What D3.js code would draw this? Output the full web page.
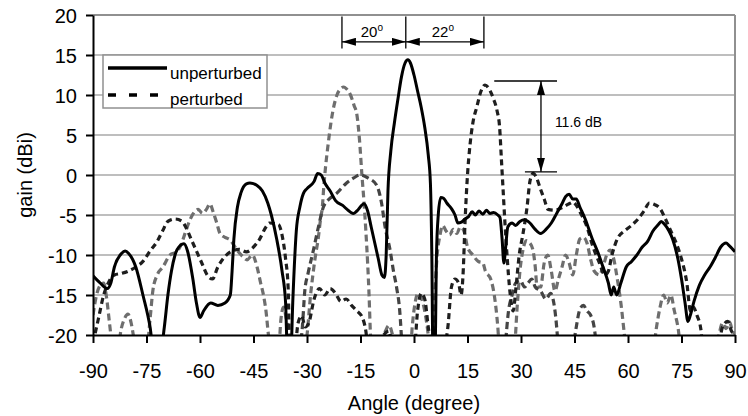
<!DOCTYPE html>
<html>
<head>
<meta charset="utf-8">
<script src="https://cdn.jsdelivr.net/npm/d3@7"></script>
<style>
  body { margin: 0; background: #fff; }
  svg text { font-family: "Liberation Sans", Arial, sans-serif; fill: #000; }
  .grid { stroke: #a8a8a8; stroke-width: 1.5; }
  .axis path, .axis line { stroke: #000; stroke-width: 2; }
  .axis text { font-size: 20px; }
</style>
</head>
<body>
<svg id="chart"></svg>
<script>
// tick values
const xTicks = [-90, -75, -60, -45, -30, -15, 0, 15, 30, 45, 60, 75, 90];
const yTicks = [-20, -15, -10, -5, 0, 5, 10, 15, 20];

// unperturbed pattern [angle, gain]
const unperturbed = [
  [-90,-12.6],[-88,-13.5],[-86,-14.2],[-85,-13.5],[-84,-11.5],[-82,-9.8],[-81,-9.5],[-80,-9.8],
  [-78,-11.5],[-76,-15],[-74,-19],[-73,-22],[-71,-22],[-70,-19],[-69,-15],[-68,-12],[-67,-10],
  [-65.5,-8.8],[-64.5,-8.6],[-63.5,-9.5],[-62,-13],[-61,-16],[-60,-17.8],[-59,-17],[-57,-16],
  [-55,-16.3],[-53,-16],[-51.5,-15],[-51,-12],[-50.5,-8],[-49.5,-4],[-48.5,-2.2],[-47,-1.1],
  [-46,-1],[-44,-1.3],[-42.5,-2],[-41,-3.5],[-40,-5],[-38.5,-8],[-37,-12],[-36,-16],[-35.5,-22],
  [-34.5,-22],[-34,-16],[-33,-7],[-32,-4],[-31,-2.3],[-30,-1.7],[-28,-0.8],[-27,0.2],[-26,0],
  [-25,-1],[-23.5,-2],[-22,-3.2],[-20,-3.8],[-19,-4.2],[-17,-4.8],[-16,-4.5],[-14,-3.6],
  [-13,-4.5],[-12,-6.5],[-11,-8.5],[-10,-10.5],[-9,-12.5],[-8.3,-12.8],[-7.8,-10],[-7.3,-2],
  [-6.5,3],[-5.5,6.5],[-4.5,9.5],[-3.5,12.3],[-2.5,14],[-1.7,14.4],[-1,14],[0,12.5],[1,10.5],
  [2,8.5],[3,6],[4,2.5],[4.6,-1],[5,-10],[5.3,-22],[5.9,-22],[6.3,-10],[6.8,-5],[7.5,-2.8],
  [8.3,-2.9],[9.2,-3.5],[10.5,-4.2],[11.5,-5],[12.3,-6],[13.3,-5.9],[14.3,-5.5],[15.3,-5.2],
  [16.3,-4.6],[17.2,-5],[18.2,-4.5],[19.3,-4.9],[20.3,-4.4],[21.3,-4.8],[22.3,-4.7],[23.5,-5],
  [24.1,-5.3],[24.7,-8],[25.2,-11],[25.7,-9],[26.3,-6.5],[27.5,-6],[28.5,-6.3],[29.7,-5.8],
  [31,-5.6],[32.5,-6],[34,-6.8],[35.5,-7.3],[37,-6.8],[38.5,-6],[40,-4.8],[41.5,-3.6],
  [42.5,-2.7],[43.5,-2.4],[44.5,-3],[45.5,-3],[46.5,-4],[48,-5.5],[50,-8],[51.5,-9.6],
  [53,-11.5],[54.5,-13.5],[55.3,-15],[56,-14],[56.8,-15],[58,-13.5],[59.5,-11.5],[61,-10.8],
  [62.5,-10],[64,-9],[65.5,-8.3],[67,-7],[68.5,-6.2],[69.3,-5.8],[70.3,-6.2],[71.5,-7],
  [72.5,-8],[74,-10.5],[75,-13],[76,-16],[76.8,-18.3],[77.5,-17.5],[78.5,-15.8],[80,-13.8],
  [81.5,-12.5],[83,-11.5],[84.5,-10.3],[86,-9],[87.5,-8.5],[88.3,-8.8],[90,-9.6]
];

// perturbed, beam at +20 (black dashes)
const perturbed = [
  [-90,-21],[-88.5,-18],[-87,-15],[-85.5,-13.3],[-84,-12.5],[-82,-12.3],[-80,-12],[-78,-11.5],
  [-76,-10.8],[-74,-9.5],[-72,-8.3],[-70.5,-7],[-69,-5.8],[-67,-5.5],[-65,-5.8],[-64,-6.5],
  [-62.5,-8],[-61,-9.5],[-59.5,-11],[-58,-12.5],[-56.5,-13],[-55,-11.5],[-53,-10.2],[-51,-9.5],
  [-49,-9.3],[-47,-9.6],[-45,-9],[-43.4,-8.1],[-41.5,-6.5],[-40.5,-6],[-38,-6.2],[-37,-7.5],
  [-36,-10.5],[-35.3,-14],[-34.8,-22],[-33.5,-22],[-32.5,-18.5],[-31.5,-17.6],[-30.5,-19],
  [-29.5,-18.5],[-28,-15.5],[-26.5,-14.2],[-25,-15],[-23.5,-14.2],[-22,-14.8],[-20.5,-15.8],
  [-19,-15.5],[-17.5,-16.3],[-16,-17],[-14.5,-17.8],[-13.5,-19.5],[-12.8,-22],[-9.5,-22],
  [-8.5,-20],[-7,-19.5],[-6,-22],[0,-22],[1,-17],[2,-14.8],[3,-15.5],[4,-19],[5,-22],[8,-22],
  [9.5,-19],[10.5,-14],[11.5,-13],[12.5,-13.5],[13.2,-15],[13.8,-12],[14.3,-6],[15,0],
  [15.7,3.75],[16.5,6.5],[17.6,8.5],[18.8,10.5],[19.9,11.25],[21,10.8],[22.3,9.5],[23.3,8],
  [24,6],[24.5,2],[25,-2],[25.5,-6],[26,-9.5],[27,-15],[27.8,-17],[28.6,-14],[29.5,-10],
  [30.5,-7.5],[31.7,-4],[32.5,-0.8],[33.4,0.2],[34.3,-0.3],[35.5,-1.8],[36.5,-3],[37.6,-4.3],
  [39.5,-4.4],[41.8,-4],[43.5,-3.6],[44.6,-3.4],[45.5,-3.8],[46.5,-4.6],[48.5,-6.5],[50.2,-9],
  [52,-11],[53.5,-12.5],[54.5,-12],[55.5,-10],[57,-8],[59,-7],[61,-6.3],[63,-5.4],[64.5,-4.5],
  [66,-3.5],[67.5,-3.7],[69,-4.2],[70.5,-5.5],[72,-7],[73.5,-8.5],[75,-10.5],[76.5,-13.5],
  [77.5,-17],[78.3,-16.5],[79.3,-17.5],[80.5,-19.5],[81,-22],[85,-22],[86.5,-19],[88,-18.3],
  [89,-19.5],[90,-20]
];

// perturbed, beam at -20 (grey dashes)
const perturbedGrey = [
  [-90,-17.5],[-89,-15],[-88,-13.8],[-87,-13.5],[-86.3,-15],[-85.5,-18],[-85,-20],[-84.5,-22],
  [-83,-22],[-82.2,-19.5],[-81.2,-18],[-80.2,-17.4],[-79.3,-18.5],[-78.7,-20],[-78,-22],
  [-75,-22],[-74,-18],[-73.2,-14.4],[-72,-12.5],[-70.4,-11.5],[-68.4,-10],[-66.5,-9.6],
  [-65.3,-8.7],[-64.2,-7.3],[-63,-5.8],[-62,-4.9],[-60.5,-4.3],[-59.3,-4.8],[-58.2,-4.3],
  [-57.2,-3.6],[-56.4,-4.5],[-55.3,-6],[-54.4,-7.3],[-53,-7.8],[-51.6,-8.1],[-49.6,-9.4],
  [-48,-10.2],[-46.8,-10.6],[-45.3,-10],[-44,-11.5],[-43,-13.5],[-42.3,-14.8],[-41.5,-17],
  [-40.8,-20],[-40,-22],[-38,-22],[-37.3,-18],[-36.6,-16.5],[-35.8,-18],[-35,-20],[-34.5,-22],
  [-31,-22],[-30,-20],[-29,-15],[-28.3,-12.3],[-27.6,-10],[-26.9,-8.1],[-26.2,-5.5],
  [-25.7,-4],[-25.3,-1.5],[-24.8,1],[-24.1,3.75],[-23.3,6.5],[-22.7,8.1],[-21.6,10],
  [-20.5,10.8],[-19.7,11],[-19,10.8],[-17.8,10],[-16.8,8.7],[-16,7.5],[-15.3,4.5],[-14.6,0],
  [-14,-3.5],[-13.5,-7],[-13,-11],[-12.6,-15],[-12.2,-20],[-11.8,-22],[-10,-22],[-8,-19.5],
  [-7,-18.8],[-6,-20],[-5,-22],[-1,-22],[-0.5,-19],[0.3,-16],[1.1,-14.8],[2,-15.3],[3,-17],
  [4,-20],[4.5,-22],[5,-22],[5.8,-15],[6.5,-10],[7.3,-7.5],[8,-6.3],[9,-7],[10,-7.5],
  [11,-6.8],[12,-7.3],[13,-6.5],[14,-7],[15,-9],[16.5,-10],[18,-10.8],[19.3,-11],[20,-12],
  [21.5,-13],[22.5,-15],[23.5,-19],[24,-22],[28,-22],[29,-16],[29.7,-12],[30.5,-9.5],
  [31.5,-8.2],[32.5,-8.5],[33.4,-9.5],[34,-11.5],[34.5,-14],[35.5,-14],[36.5,-11],[37.5,-10],
  [38.5,-12],[39.5,-14.5],[40.5,-13],[41.5,-11.5],[42.5,-10],[43.5,-11],[44.5,-12.5],
  [45.5,-10],[46.5,-8],[47.5,-7.8],[48.5,-8.5],[49.5,-10.5],[50.5,-12],[52,-12.5],[53,-11.5],
  [54,-10],[55,-9.4],[56,-10.5],[57,-13],[58,-16],[59,-20],[59.5,-22],[67,-22],[68,-19],
  [69,-16.5],[70,-15],[71,-16],[72,-15],[73,-17],[74,-19],[75,-22],[84.5,-22],[85.5,-20],
  [86.5,-18.5],[87.5,-19.2],[88.5,-18.4],[89.3,-19.5],[90,-19.8]
];

// further dashed trace (dark grey), only where it shows; null = gap
const perturbedDark = [
  [-32,-22],[-31.3,-19],[-30.6,-14.4],[-29.7,-12.3],[-28.2,-9.4],[-26.8,-6.5],[-25.4,-4],
  [-24,-3.1],[-21.7,-2.3],[-18.9,-1],[-17,-0.4],[-15.1,0],[-12.8,-0.4],[-10.5,-1.25],
  [-9.1,-3.5],[-8.1,-6.5],[-6.7,-9.4],[-5.8,-11.9],[-4.9,-14],[-4,-17],[-3.3,-22],
  [0,null],
  [25.5,-22],[26.5,-17],[27.5,-15],[28.5,-13.5],[29.8,-13.2],[31,-14],[32,-13.5],[33,-13],
  [34,-14],[35.5,-14.5],[37,-15.5],[38.3,-14.8],[39.2,-16],[40,-19],[40.5,-22],
  [42,null],
  [44.5,-22],[45.5,-19],[46.5,-16.8],[47.5,-16.3],[48.5,-17],[49.5,-17.5],[50.5,-19],[51.3,-22]
];

// annotations (angle, gain)
const beamMarks = [-20.2, -2.3, 19.6];
const beamLabels = ["20", "22"];
const sllTop = { from: 22.5, to: 40.1, gain: 11.75 };
const sllBottom = { from: 31.1, to: 40.1, gain: 0.4 };
const sllArrowX = 35.6;
const sllLabel = "11.6 dB";

const width = 748, height = 416;
const margin = {top: 15, right: 13, bottom: 81, left: 93};

const svg = d3.select('#chart')
    .attr('width', width)
    .attr('height', height);

const x = d3.scaleLinear().domain([-90, 90]).range([margin.left, width - margin.right]);
const y = d3.scaleLinear().domain([-20, 20]).range([height - margin.bottom, margin.top]);

// plain hyphen for negatives, as in the original
const fmt = d => String(d);

// arrow heads
const defs = svg.append('defs');
defs.append('marker')
    .attr('id', 'arrow')
    .attr('viewBox', '0 0 14 8')
    .attr('refX', 14).attr('refY', 4)
    .attr('markerWidth', 14).attr('markerHeight', 8)
    .attr('markerUnits', 'userSpaceOnUse')
    .attr('orient', 'auto-start-reverse')
  .append('path')
    .attr('d', 'M0,0L14,4L0,8Z')
    .attr('fill', '#000');

defs.append('clipPath').attr('id', 'plot-clip')
  .append('rect')
    .attr('x', x(-90)).attr('y', y(20))
    .attr('width', x(90) - x(-90)).attr('height', y(-20) - y(20));

// gridlines
svg.append('g').selectAll('line')
    .data(yTicks.filter(d => d > -20))
    .join('line')
    .attr('class', 'grid')
    .attr('x1', x(-90)).attr('x2', x(90))
    .attr('y1', d => y(d)).attr('y2', d => y(d))
    .style('stroke', d => d === 20 ? '#909090' : null)
    .style('stroke-width', d => d === 20 ? 2 : null);

// right border of plot area
svg.append('line')
    .attr('x1', x(90)).attr('x2', x(90))
    .attr('y1', y(20)).attr('y2', y(-20))
    .attr('stroke', '#909090').attr('stroke-width', 2);

const line = d3.line()
    .defined(d => d[1] !== null)
    .x(d => x(d[0]))
    .y(d => y(d[1]))
    .curve(d3.curveMonotoneX);

const curves = svg.append('g').attr('clip-path', 'url(#plot-clip)');

curves.append('path').datum(perturbedGrey)
    .attr('fill', 'none').attr('stroke', '#6e6e6e')
    .attr('stroke-width', 3.2).attr('stroke-dasharray', '7,4')
    .attr('d', line);

curves.append('path').datum(perturbedDark)
    .attr('fill', 'none').attr('stroke', '#444')
    .attr('stroke-width', 3.2).attr('stroke-dasharray', '7,4')
    .attr('d', line);

curves.append('path').datum(perturbed)
    .attr('fill', 'none').attr('stroke', '#1e1e1e')
    .attr('stroke-width', 3.2).attr('stroke-dasharray', '6,4')
    .attr('d', line);

curves.append('path').datum(unperturbed)
    .attr('fill', 'none').attr('stroke', '#000')
    .attr('stroke-width', 3)
    .attr('stroke-linejoin', 'round')
    .attr('d', line);

// legend
const legend = svg.append('g');
legend.append('rect')
    .attr('x', 103).attr('y', 55)
    .attr('width', 164).attr('height', 53)
    .attr('fill', '#fff').attr('stroke', '#909090').attr('stroke-width', 1.5);
legend.append('line')
    .attr('x1', 108).attr('x2', 167).attr('y1', 68).attr('y2', 68)
    .attr('stroke', '#000').attr('stroke-width', 3.5);
legend.append('line')
    .attr('x1', 108).attr('x2', 160).attr('y1', 95).attr('y2', 95)
    .attr('stroke', '#000').attr('stroke-width', 3.5).attr('stroke-dasharray', '8,13');
legend.append('text').attr('x', 170).attr('y', 79)
    .style('font-size', '17px').text('unperturbed');
legend.append('text').attr('x', 170).attr('y', 105)
    .style('font-size', '17px').text('perturbed');

// axes
svg.append('g')
    .attr('class', 'axis')
    .attr('transform', `translate(${margin.left},0)`)
    .call(d3.axisLeft(y).tickValues(yTicks).tickFormat(fmt).tickSize(7).tickPadding(9).tickSizeOuter(0))
    .call(g => g.selectAll('text').attr('dy', '0.36em'));

svg.append('g')
    .attr('class', 'axis')
    .attr('transform', `translate(0,${height - margin.bottom})`)
    .call(d3.axisBottom(x).tickValues(xTicks).tickFormat(fmt).tickSize(8).tickPadding(21).tickSizeOuter(0));

// axis titles
svg.append('text')
    .attr('x', x(0)).attr('y', 410)
    .attr('text-anchor', 'middle')
    .style('font-size', '20px')
    .text('Angle (degree)');

svg.append('text')
    .attr('transform', 'translate(32,175) rotate(-90)')
    .attr('text-anchor', 'middle')
    .style('font-size', '20px')
    .text('gain (dBi)');

// beam separation markers
const ann = svg.append('g');
ann.selectAll('line.mark')
    .data(beamMarks)
    .join('line')
    .attr('x1', d => x(d)).attr('x2', d => x(d))
    .attr('y1', y(19.8)).attr('y2', y(15.8))
    .attr('stroke', '#000').attr('stroke-width', 1.3);

beamLabels.forEach((lab, i) => {
  const a = beamMarks[i], b = beamMarks[i + 1];
  ann.append('line')
      .attr('x1', x(a)).attr('x2', x(b))
      .attr('y1', y(16.65)).attr('y2', y(16.65))
      .attr('stroke', '#000').attr('stroke-width', 1.3)
      .attr('marker-start', 'url(#arrow)').attr('marker-end', 'url(#arrow)');
  const t = ann.append('text')
      .attr('x', (x(a) + x(b)) / 2 - 2).attr('y', y(16.65) - 5)
      .attr('text-anchor', 'middle')
      .style('font-size', '15px');
  t.append('tspan').text(lab);
  t.append('tspan').attr('dy', '-6').style('font-size', '10px').text('o');
});

// side lobe level marker
[sllTop, sllBottom].forEach(s => {
  ann.append('line')
      .attr('x1', x(s.from)).attr('x2', x(s.to))
      .attr('y1', y(s.gain)).attr('y2', y(s.gain))
      .attr('stroke', '#000').attr('stroke-width', 1.3);
});
ann.append('line')
    .attr('x1', x(sllArrowX)).attr('x2', x(sllArrowX))
    .attr('y1', y(sllTop.gain)).attr('y2', y(sllBottom.gain))
    .attr('stroke', '#000').attr('stroke-width', 1.3)
    .attr('marker-start', 'url(#arrow)').attr('marker-end', 'url(#arrow)');
ann.append('text')
    .attr('x', x(39.5)).attr('y', y(6.6) + 5)
    .style('font-size', '14px')
    .text(sllLabel);
</script>
</body>
</html>
